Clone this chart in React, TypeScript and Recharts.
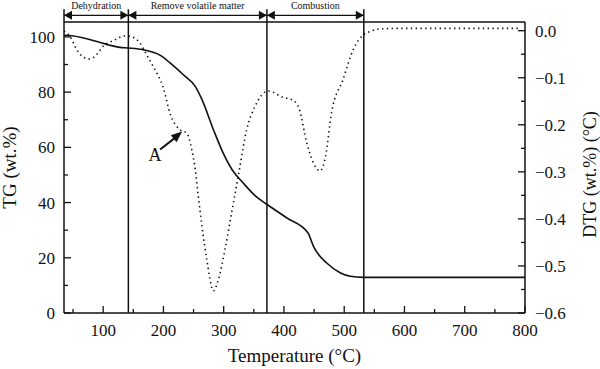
import { ComposedChart, Line, XAxis, YAxis, ReferenceLine, ReferenceDot } from 'recharts'

// TG curve (solid, left axis)
const tgTemp = [35, 48, 95, 111, 128, 141, 166, 195, 211, 233, 253, 264, 283, 299, 314, 332, 352, 372, 405, 440, 449, 471, 494, 510, 532, 600, 700, 800]
const tgMass = [100.6, 100.4, 98, 97, 96.2, 96, 95.4, 93.3, 90.6, 86.3, 82, 77.3, 66.4, 58, 51.9, 47.2, 42.5, 39.3, 34.4, 29, 24.1, 18.1, 14.5, 13.3, 12.9, 12.9, 12.9, 12.9]

// DTG curve (dotted, right axis)
const dtgTemp = [35, 45, 56, 67, 78, 89, 100, 117, 136, 147, 161, 172, 186, 199, 212, 228, 239, 247, 253, 258, 264, 272, 283, 291, 302, 314, 325, 338, 352, 374, 399, 414, 425, 438, 449, 460, 469, 479, 498, 515, 532, 543, 560, 600, 700, 790]
const dtgRate = [-0.001, -0.012, -0.04, -0.056, -0.06, -0.051, -0.033, -0.021, -0.011, -0.013, -0.026, -0.051, -0.083, -0.118, -0.18, -0.211, -0.218, -0.253, -0.296, -0.353, -0.416, -0.487, -0.553, -0.53, -0.466, -0.381, -0.303, -0.211, -0.161, -0.128, -0.142, -0.147, -0.165, -0.239, -0.281, -0.298, -0.267, -0.174, -0.104, -0.04, -0.0085, -0.0015, 0.004, 0.005, 0.005, 0.005]

// stage boundaries and labels
const stageBounds = [141.8, 371.7, 532.5]
const stageNames = ['Dehydration', 'Remove volatile matter', 'Combustion']

const xTicks = [50, 100, 150, 200, 250, 300, 350, 400, 450, 500, 550, 600, 650, 700, 750, 800]
const tgTicks = [0, 10, 20, 30, 40, 50, 60, 70, 80, 90, 100]
const dtgTicks = [-0.6, -0.55, -0.5, -0.45, -0.4, -0.35, -0.3, -0.25, -0.2, -0.15, -0.1, -0.05, 0]

const tgData = tgTemp.map((t, i) => ({ t, v: tgMass[i] }))
const dtgData = dtgTemp.map((t, i) => ({ t, v: dtgRate[i] }))

const FONT = '"Liberation Serif", "Times New Roman", serif'
const INK = '#111'
const txt = { fontFamily: FONT }

const XTick = ({ x, y, payload }: any) => {
  const major = payload.value % 100 === 0
  return (
    <g>
      <line x1={x} y1={y} x2={x} y2={y - (major ? 7 : 4)} stroke={INK} strokeWidth={1.3} />
      {major && (
        <text x={x} y={y + 23} textAnchor="middle" fontSize={17} style={txt} fill={INK}>
          {payload.value}
        </text>
      )}
    </g>
  )
}

const LeftTick = ({ x, y, payload }: any) => {
  const major = payload.value % 20 === 0
  return (
    <g>
      <line x1={x} y1={y} x2={x + (major ? 7 : 4)} y2={y} stroke={INK} strokeWidth={1.3} />
      {major && (
        <text x={x - 9} y={y + 6} textAnchor="end" fontSize={17} style={txt} fill={INK}>
          {payload.value}
        </text>
      )}
    </g>
  )
}

const RightTick = ({ x, y, payload }: any) => {
  const major = Math.round(payload.value * 100) % 10 === 0
  const label = payload.value.toFixed(1).replace('-', '\u2212')
  return (
    <g>
      <line x1={x} y1={y} x2={x - (major ? 7 : 4)} y2={y} stroke={INK} strokeWidth={1.3} />
      {major && (
        <text x={x + 10} y={y + 6} textAnchor="start" fontSize={17} style={txt} fill={INK}>
          {label}
        </text>
      )}
    </g>
  )
}

const headShape = (angle: number, len: number, wid: number) => (p: any) => (
  <polygon
    points={`0,0 ${-len},${-wid / 2} ${-len},${wid / 2}`}
    transform={`translate(${p.cx},${p.cy}) rotate(${angle})`}
    fill={INK}
  />
)

const textShape = (s: string, size: number) => (p: any) => (
  <text x={p.cx} y={p.cy} textAnchor="middle" fontSize={size} style={txt} fill={INK}>
    {s}
  </text>
)

export default function App() {
  const edges = [35, ...stageBounds]
  const arrowY = 107.8
  return (
    <div style={{ position: 'absolute', left: 0, top: 0, width: 600, height: 369, background: '#fff' }}>
      <ComposedChart width={600} height={369} margin={{ top: 22, right: 0, bottom: 0, left: 0 }}>
        <XAxis
          xAxisId="x"
          type="number"
          dataKey="t"
          domain={[35, 800]}
          ticks={xTicks}
          interval={0}
          allowDataOverflow
          height={56}
          tickSize={0}
          tickMargin={0}
          tickLine={false}
          tick={<XTick />}
          axisLine={{ stroke: INK, strokeWidth: 1.5 }}
          label={{ value: 'Temperature (°C)', position: 'insideBottom', offset: 7, fontSize: 19, fontFamily: FONT, fill: INK }}
        />
        <YAxis
          yAxisId="tg"
          orientation="left"
          domain={[0, 105.4]}
          ticks={tgTicks}
          interval={0}
          allowDataOverflow
          width={64}
          tickSize={0}
          tickMargin={0}
          tickLine={false}
          tick={<LeftTick />}
          axisLine={{ stroke: INK, strokeWidth: 1.5 }}
          label={{ value: 'TG (wt.%)', angle: -90, position: 'center', dx: -23, fontSize: 19, fontFamily: FONT, fill: INK }}
        />
        <YAxis
          yAxisId="dtg"
          orientation="right"
          domain={[-0.6, 0.0185]}
          ticks={dtgTicks}
          interval={0}
          allowDataOverflow
          width={75}
          tickSize={0}
          tickMargin={0}
          tickLine={false}
          tick={<RightTick />}
          axisLine={{ stroke: INK, strokeWidth: 1.5 }}
          label={{ value: 'DTG (wt.%) (°C)', angle: -90, position: 'center', dx: 27, dy: 7, fontSize: 18, fontFamily: FONT, fill: INK }}
        />

        {/* top frame line and left edge extension */}
        <ReferenceLine xAxisId="x" yAxisId="tg" segment={[{ x: 35, y: 105.4 }, { x: 800, y: 105.4 }]} stroke={INK} strokeWidth={1.5} ifOverflow="visible" />
        <ReferenceLine xAxisId="x" yAxisId="tg" segment={[{ x: 35, y: 105.4 }, { x: 35, y: 110 }]} stroke={INK} strokeWidth={1.5} ifOverflow="visible" />

        <Line xAxisId="x" yAxisId="dtg" data={dtgData} dataKey="v" type="monotone" stroke={INK} strokeWidth={1.6}
          strokeDasharray="1.4 3.4" dot={false} activeDot={false} isAnimationActive={false} />
        <Line xAxisId="x" yAxisId="tg" data={tgData} dataKey="v" type="monotone" stroke={INK} strokeWidth={1.6}
          dot={false} activeDot={false} isAnimationActive={false} />

        {stageBounds.map(b => (
          <ReferenceLine key={b} xAxisId="x" yAxisId="tg" segment={[{ x: b, y: 0 }, { x: b, y: 110 }]}
            stroke={INK} strokeWidth={1.5} ifOverflow="visible" />
        ))}

        {stageNames.map((name, i) => (
          <ReferenceLine key={'a' + i} xAxisId="x" yAxisId="tg"
            segment={[{ x: edges[i], y: arrowY }, { x: edges[i + 1], y: arrowY }]}
            stroke={INK} strokeWidth={1.4} ifOverflow="visible" />
        ))}
        {stageNames.map((name, i) => (
          <ReferenceDot key={'l' + i} xAxisId="x" yAxisId="tg" x={edges[i]} y={arrowY} r={1}
            ifOverflow="visible" shape={headShape(180, 8, 9)} />
        ))}
        {stageNames.map((name, i) => (
          <ReferenceDot key={'r' + i} xAxisId="x" yAxisId="tg" x={edges[i + 1]} y={arrowY} r={1}
            ifOverflow="visible" shape={headShape(0, 8, 9)} />
        ))}
        {stageNames.map((name, i) => (
          <ReferenceDot key={'n' + i} xAxisId="x" yAxisId="tg" x={(edges[i] + edges[i + 1]) / 2} y={110.2} r={1}
            ifOverflow="visible" shape={textShape(name, 10)} />
        ))}

        {/* annotation A */}
        <ReferenceLine xAxisId="x" yAxisId="tg" segment={[{ x: 194.5, y: 59.2 }, { x: 226, y: 64.6 }]}
          stroke={INK} strokeWidth={2} ifOverflow="visible" />
        <ReferenceDot xAxisId="x" yAxisId="tg" x={231} y={65.7} r={1} ifOverflow="visible" shape={headShape(-40, 11, 9)} />
        <ReferenceDot xAxisId="x" yAxisId="tg" x={186} y={54.9} r={1} ifOverflow="visible" shape={textShape('A', 18)} />
      </ComposedChart>
    </div>
  )
}
